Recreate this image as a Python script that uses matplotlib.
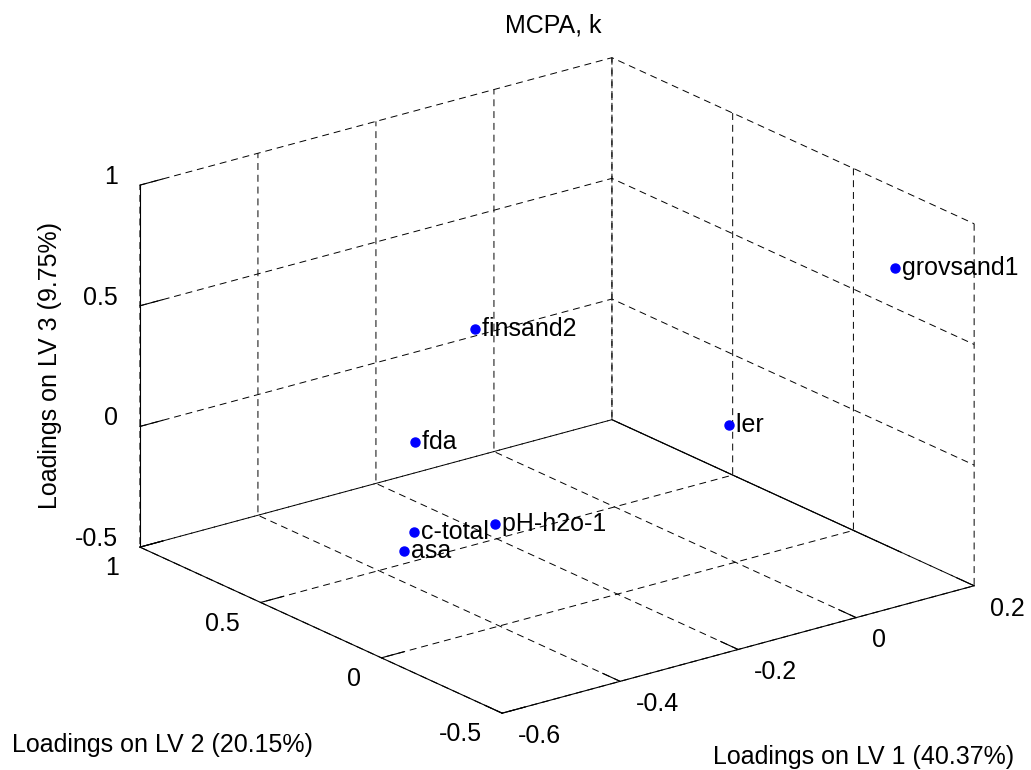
import matplotlib
matplotlib.use('Agg')
import matplotlib.pyplot as plt

# loadings
names = ['grovsand1', 'finsand2', 'ler', 'fda', 'c-total', 'pH-h2o-1', 'asa']
lv1 = [0.147, -0.237, -0.011, -0.338, -0.422, -0.326, -0.479]
lv2 = [-0.30, 0.50, 0.00, 0.50, 0.30, 0.20, 0.20]
lv3 = [0.758, 0.393, 0.074, -0.007, -0.235, -0.220, -0.227]

x_lim = (-0.6, 0.2)
yz_lim = (-0.5, 1)
x_ticks = [-0.6, -0.4, -0.2, 0, 0.2]
x_ticklabels = ['-0.6', '-0.4', '-0.2', '0', '0.2']
yz_ticks = [-0.5, 0, 0.5, 1]
yz_ticklabels = ['-0.5', '0', '0.5', '1']

FS = 18
plt.rcParams['font.family'] = ['Liberation Sans', 'DejaVu Sans']
plt.rcParams['font.size'] = FS
plt.rcParams['grid.color'] = 'black'
plt.rcParams['grid.linestyle'] = '--'
plt.rcParams['grid.linewidth'] = 0.7
plt.rcParams['lines.scale_dashes'] = False
plt.rcParams['lines.dashed_pattern'] = [5.0, 3.5]

fig = plt.figure(figsize=(10.31, 7.70), dpi=100)
ax = fig.add_axes([0.081, 0.027, 0.9, 0.92], projection='3d', proj_type='ortho')
ax.set_box_aspect((1, 1, 0.65), zoom=1.269)
ax.view_init(elev=20.6, azim=-127.5)

ax.plot(lv1, lv2, lv3, 'o', color='#0000ff', ms=6.5, linestyle='none')
for n, a, b, c in zip(names, lv1, lv2, lv3):
    ax.text(a, b, c, ' ' + n, ha='left', va='center', fontsize=FS)

# solid floor edge on the right, as MATLAB draws it
ax.plot([x_lim[1], x_lim[1]], [yz_lim[1], yz_lim[0]], [yz_lim[0], yz_lim[0]],
        color='black', lw=0.8)

ax.set_xlim(*x_lim)
ax.set_ylim(*yz_lim)
ax.set_zlim(*yz_lim)
ax.set_xticks(x_ticks)
ax.set_xticklabels(x_ticklabels, ha='left', va='center')
ax.set_yticks(yz_ticks)
ax.set_yticklabels(yz_ticklabels, ha='right', va='center')
ax.set_zticks(yz_ticks)
ax.set_zticklabels(yz_ticklabels, ha='right', va='baseline')
ax.zaxis.set_tick_params(pad=-1)

for axis in (ax.xaxis, ax.yaxis, ax.zaxis):
    axis.pane.fill = False
    axis.pane.set_edgecolor('none')
    axis.line.set_color('black')
    axis.line.set_linewidth(0.8)
    axis._axinfo['tick']['inward_factor'] = 0.0
    axis._axinfo['tick']['outward_factor'] = 0.6

fig.text(0.5364, 0.9675, 'MCPA, k', fontsize=FS, ha='center', va='center')
fig.text(0.0116, 0.0325, 'Loadings on LV 2 (20.15%)', fontsize=FS, va='center')
fig.text(0.6916, 0.0169, 'Loadings on LV 1 (40.37%)', fontsize=FS, va='center')
fig.text(0.0485, 0.5247, 'Loadings on LV 3 (9.75%)', fontsize=FS,
         rotation=90, ha='center', va='center')

plt.savefig('out.png', dpi=100)
